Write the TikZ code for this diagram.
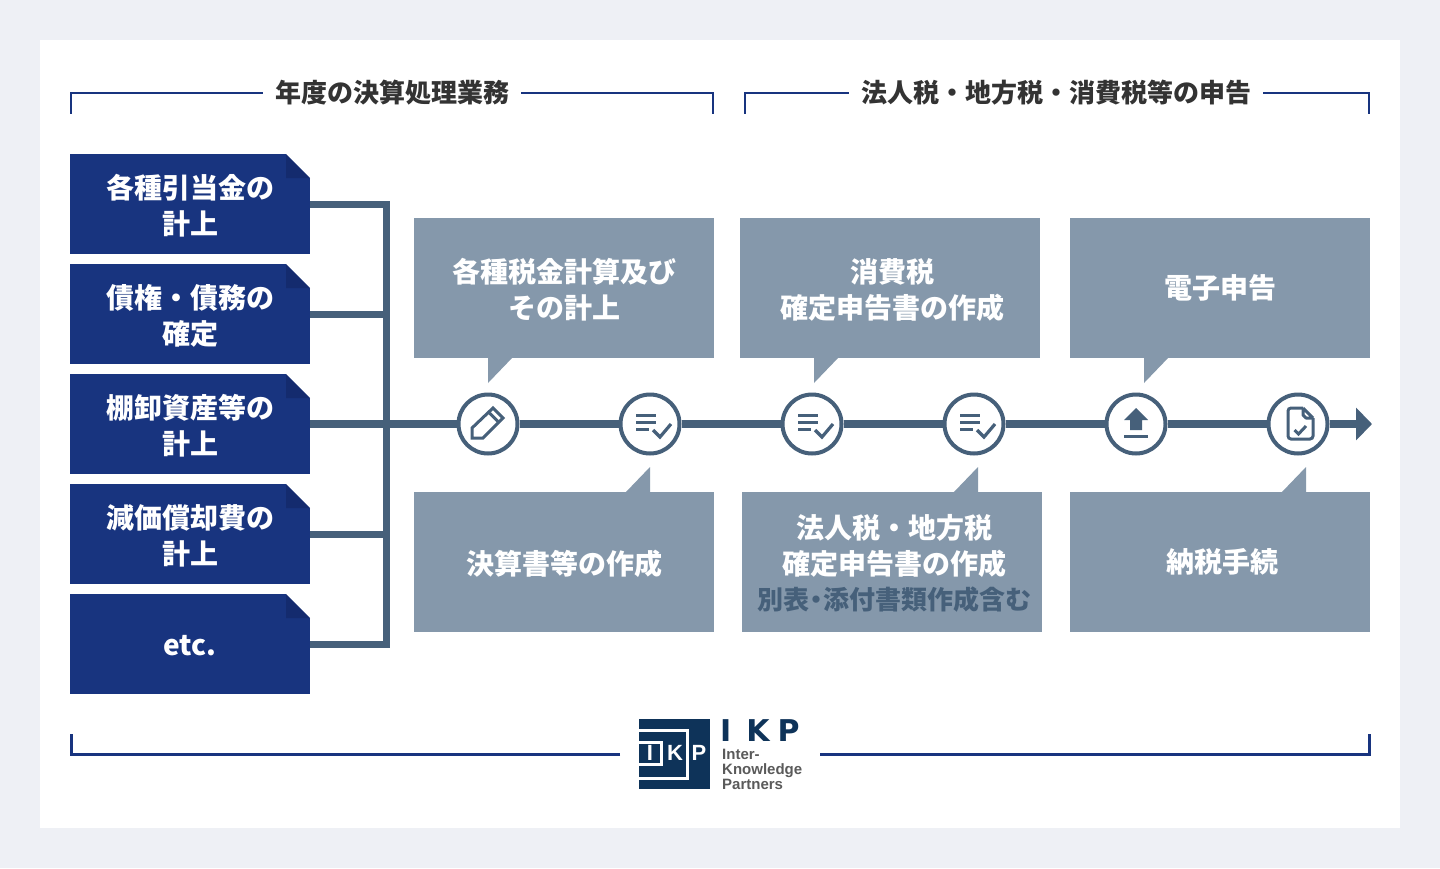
\documentclass[tikz,border=0pt]{standalone}
\usepackage{fontspec}
\setmainfont{Noto Sans CJK JP}
\newfontfamily\logofont{Liberation Sans}
\newfontfamily\logowide{DejaVu Sans}
\usetikzlibrary{arrows.meta,calc}
\definecolor{ikpnavy}{HTML}{18347F}
\definecolor{ikpfold}{HTML}{142B6E}
\definecolor{ikpslate}{HTML}{46607A}
\definecolor{ikpgrey}{HTML}{8598AB}
\definecolor{ikppage}{HTML}{EEF0F5}
\definecolor{ikplogo}{HTML}{0E3359}
\definecolor{ikpink}{HTML}{333333}
\definecolor{ikplogotext}{HTML}{5A5A5A}
\newcommand{\jpfont}[1]{\fontsize{#1}{36}\selectfont\bfseries}
% text set a little right (#2) and low (#3) of the box centre
\newcommand{\boxtext}[4][280pt]{\hspace*{#2}\parbox{#1}{\vspace*{#3}\centering\setlength{\baselineskip}{36pt}#4}}
\tikzset{
  docbox/.style={fill=ikpnavy,minimum width=240pt,minimum height=100pt,inner sep=0pt,
                 align=center,text=white,font=\jpfont{28},
    path picture={
      \fill[white] ([xshift=-24pt]path picture bounding box.north east)
        -- (path picture bounding box.north east)
        -- ([yshift=-24pt]path picture bounding box.north east) -- cycle;
      \fill[ikpfold] ([xshift=-24pt]path picture bounding box.north east)
        -- ([xshift=-24pt,yshift=-24pt]path picture bounding box.north east)
        -- ([yshift=-24pt]path picture bounding box.north east) -- cycle;
    }},
  callout/.style={fill=ikpgrey,minimum width=300pt,minimum height=140pt,inner sep=0pt,
                  align=center,text=white,font=\jpfont{28}},
  tail/.style={fill=ikpgrey},
  stepnode/.style={circle,draw=ikpslate,line width=4pt,fill=white,minimum size=59pt,inner sep=0pt},
  wire/.style={draw=ikpslate,line width=7pt},
  mainline/.style={draw=ikpslate,line width=8pt},
  bracket/.style={draw=ikpnavy,line width=2pt},
  heavybracket/.style={draw=ikpnavy,line width=3pt},
  heading/.style={text=ikpink,font=\jpfont{26},inner xsep=12pt,inner ysep=0pt},
  icon/.style={draw=ikpslate,line width=3pt},
  logoletter/.style={text=white,font=\logofont\fontsize{22}{22}\selectfont\bfseries,inner sep=0pt},
  checklist/.pic={
    \draw[icon] (-14,-9) -- (6,-9) (-14,-2) -- (6,-2) (-14,5) -- (-1,5);
    \draw[icon,line width=3.2pt] (3,6) -- (10,13) -- (21,0);
  },
  pencil/.pic={
    \draw[icon,line join=miter] (-16,4) -- (-16,14) -- (-5,14) -- (15,-6) -- (5,-16) -- cycle;
    \draw[icon] (1.5,-11) -- (10.5,-2);
  },
  upload/.pic={
    \fill[ikpslate] (0,-16) -- (12,-4) -- (6,-4) -- (6,6) -- (-6,6) -- (-6,-4) -- (-12,-4) -- cycle;
    \draw[icon] (-12,12) -- (12,12);
  },
  sheet/.pic={
    \draw[icon,rounded corners=3pt] (5,-16) -- (-10,-16) -- (-10,15) -- (15,15) -- (15,-6);
    \draw[icon,line join=round] (5,-16) -- (15,-6) (5,-16) -- (5,-9) -- (8,-6) -- (15,-6);
    \draw[icon] (-3.5,6) -- (0.5,10) -- (8,2);
  },
}
\begin{document}
\begin{tikzpicture}[x=1pt,y=-1pt]
  \fill[ikppage] (0,0) rectangle (1440,868);
  \fill[white] (40,40) rectangle (1400,828);

  % headings
  \node[heading] (headyear) at (392,93) {年度の決算処理業務};
  \node[heading] (headtax) at (1056,93) {法人税・地方税・消費税等の申告};
  \coordinate (yearl) at (71,114);
  \coordinate (yearr) at (713,114);
  \coordinate (taxl) at (745,114);
  \coordinate (taxr) at (1369,114);
  \draw[bracket] (headyear.west) -| (yearl);
  \draw[bracket] (headyear.east) -| (yearr);
  \draw[bracket] (headtax.west) -| (taxl);
  \draw[bracket] (headtax.east) -| (taxr);

  % year-end entries
  \node[docbox] (entry1) at (190,204) {\boxtext[220pt]{0pt}{4pt}{各種引当金の\\計上}};
  \node[docbox] (entry2) at (190,314) {\boxtext[220pt]{0pt}{4pt}{債権・債務の\\確定}};
  \node[docbox] (entry3) at (190,424) {\boxtext[220pt]{0pt}{4pt}{棚卸資産等の\\計上}};
  \node[docbox] (entry4) at (190,534) {\boxtext[220pt]{0pt}{4pt}{減価償却費の\\計上}};
  \node[docbox] (entry5) at (190,644) {\boxtext[220pt]{0pt}{4pt}{etc.}};

  % steps on the line
  \node[stepnode] (step1) at (488,424) {};
  \node[stepnode] (step2) at (650,424) {};
  \node[stepnode] (step3) at (812,424) {};
  \node[stepnode] (step4) at (974,424) {};
  \node[stepnode] (step5) at (1136,424) {};
  \node[stepnode] (step6) at (1298,424) {};
  \pic at (step1) {pencil};
  \pic at (step2) {checklist};
  \pic at (step3) {checklist};
  \pic at (step4) {checklist};
  \pic at (step5) {upload};
  \pic at (step6) {sheet};

  % entries join the line
  \coordinate (join) at (386,424);
  \draw[wire] (entry1.east) -| (join);
  \draw[wire] (entry5.east) -| (join);
  \draw[wire] (entry2.east) -- (entry2.east -| join);
  \draw[wire] (entry4.east) -- (entry4.east -| join);
  \coordinate (lineend) at (1372,424);
  \draw[mainline] (entry3.east) -- (step1);
  \draw[mainline] (step1) -- (step2);
  \draw[mainline] (step2) -- (step3);
  \draw[mainline] (step3) -- (step4);
  \draw[mainline] (step4) -- (step5);
  \draw[mainline] (step5) -- (step6);
  \draw[mainline,-{Triangle[length=16pt,width=32pt]}] (step6) -- (lineend);

  % upper callouts
  \node[callout] (calc) at (564,288) {\boxtext{0pt}{4pt}{各種税金計算及び\\その計上}};
  \node[callout] (vat) at (890,288) {\boxtext{4pt}{4pt}{消費税\\確定申告書の作成}};
  \node[callout] (efile) at (1220,288) {電子申告};
  \fill[tail] (488,357) -- (488,383) -- (513,357) -- cycle;
  \fill[tail] (814,357) -- (814,383) -- (839,357) -- cycle;
  \fill[tail] (1144,357) -- (1144,383) -- (1169,357) -- cycle;

  % lower callouts
  \node[callout] (books) at (564,562) {\boxtext{0pt}{4pt}{決算書等の作成}};
  \node[callout] (corp) at (892,562) {\boxtext{4pt}{3pt}{法人税・地方税\\確定申告書の作成\\[-1pt]{\color{ikpslate}\jpfont{26}別表\hspace{-6pt}・\hspace{-6pt}添付書類作成含む}}};
  \node[callout] (pay) at (1220,562) {\boxtext{4pt}{0pt}{納税手続}};
  \fill[tail] (650,467) -- (650,493) -- (625,493) -- cycle;
  \fill[tail] (978,467) -- (978,493) -- (953,493) -- cycle;
  \fill[tail] (1306,467) -- (1306,493) -- (1281,493) -- cycle;

  % logo
  \node[fill=ikplogo,minimum size=70.5pt,inner sep=0pt] (logo) at (674.5,754) {};
  \draw[white,line width=3pt] (639,730) -| (687,778) -- (639,778);
  \draw[white,line width=3pt] (639,742.5) -| (661.5,764) -- (639,764);
  \node[logoletter] (logoi) at (650,753) {I};
  \node[logoletter] (logok) at (675,753) {K};
  \node[logoletter] (logop) at (699,753) {P};
  \node[anchor=west,text=ikplogo,font=\logowide\fontsize{30}{30}\selectfont\bfseries,inner sep=0pt] (logoname) at (720,731) {I\hspace{15pt}K\hspace{8pt}P};
  \node[anchor=north west,text=ikplogotext,font=\logofont\fontsize{15}{15}\selectfont\bfseries,align=left,inner sep=0pt] (logotext) at (722,748.5) {Inter-\\Knowledge\\Partners};

  % span under everything
  \coordinate (spanl) at (71,734);
  \coordinate (spanr) at (1369,734);
  \coordinate (logol) at (620,754);
  \coordinate (logor) at (820,754);
  \draw[heavybracket] (logol) -| (spanl);
  \draw[heavybracket] (logor) -| (spanr);
\end{tikzpicture}
\end{document}
